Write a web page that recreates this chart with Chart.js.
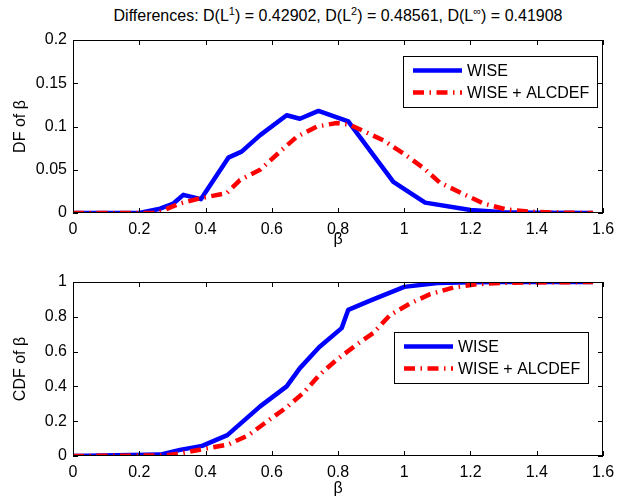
<!DOCTYPE html>
<html>
<head>
<meta charset="utf-8">
<script src="https://cdn.jsdelivr.net/npm/chart.js@4.4.0/dist/chart.umd.min.js"></script>
<style>
  body { margin: 0; background: #fff; }
  #wrap { position: relative; width: 624px; height: 497px; font-family: "Liberation Sans", Arial, sans-serif; }
  #titulo { position: absolute; left: 73px; width: 530px; top: 7px; text-align: center; font-size: 16px; color: #000; white-space: nowrap; }
  #titulo sup { font-size: 11px; vertical-align: 6px; line-height: 0; }
  canvas { position: absolute; left: 0; }
  #topo { top: 0; }
  #baixo { top: 248px; }
</style>
</head>
<body>
<div id="wrap">
  <div id="titulo">Differences: D(L<sup>1</sup>) = 0.42902, D(L<sup>2</sup>) = 0.48561, D(L<sup>∞</sup>) = 0.41908</div>
  <canvas id="topo" width="624" height="248"></canvas>
  <canvas id="baixo" width="624" height="249"></canvas>
</div>
<script>
// dados
const labelWise = 'WISE';
const labelAll = 'WISE + ALCDEF';

const betaDfWise = [0, 0.2, 0.263, 0.303, 0.333, 0.386, 0.469, 0.509, 0.565, 0.645, 0.685, 0.741, 0.831, 0.967, 1.063, 1.2, 1.3, 1.4, 1.57];
const dfWise = [0, 0, 0.005, 0.011, 0.021, 0.016, 0.064, 0.071, 0.090, 0.113, 0.109, 0.118, 0.106, 0.036, 0.012, 0.0035, 0.001, 0.0003, 0];

const betaDfAll = [0, 0.253, 0.323, 0.383, 0.464, 0.504, 0.565, 0.625, 0.675, 0.736, 0.796, 0.836, 0.937, 0.997, 1.058, 1.108, 1.173, 1.239, 1.309, 1.38, 1.45, 1.57];
const dfAll = [0, 0, 0.011, 0.017, 0.023, 0.038, 0.050, 0.071, 0.088, 0.100, 0.104, 0.102, 0.084, 0.069, 0.052, 0.035, 0.023, 0.011, 0.004, 0.0015, 0.0005, 0];

const betaCdfWise = [0, 0.263, 0.323, 0.39, 0.466, 0.565, 0.645, 0.685, 0.743, 0.811, 0.831, 0.897, 1.0, 1.1, 1.2, 1.3, 1.57];
const cdfWise = [0, 0.008, 0.035, 0.058, 0.12, 0.285, 0.40, 0.505, 0.625, 0.735, 0.84, 0.893, 0.972, 0.994, 0.999, 1, 1];

const betaCdfAll = [0, 0.28, 0.323, 0.404, 0.469, 0.53, 0.585, 0.645, 0.695, 0.746, 0.796, 0.856, 0.907, 0.957, 1.017, 1.078, 1.148, 1.219, 1.3, 1.57];
const cdfAll = [0, 0.003, 0.015, 0.044, 0.066, 0.12, 0.197, 0.28, 0.362, 0.47, 0.553, 0.64, 0.707, 0.81, 0.876, 0.93, 0.968, 0.987, 0.996, 1];

const xTicks = { min: 0, max: 1.6, step: 0.2 };

const fonte = "'Liberation Sans', Arial, sans-serif";
const azul = '#0000ff';
const vermelho = '#ff0000';
const tracoPonto = [11, 5.5, 1.5, 5.5];

function pares(xs, ys) {
  return xs.map((x, i) => ({ x: x, y: ys[i] }));
}

function fmt(v) {
  return String(+Number(v).toFixed(2));
}

// moldura, ticks para dentro e legenda no estilo matlab
const moldura = {
  id: 'moldura',
  afterDraw(chart, args, opts) {
    const ctx = chart.ctx;
    const a = chart.chartArea;
    const sx = chart.scales.x, sy = chart.scales.y;
    ctx.save();
    ctx.strokeStyle = '#000';
    ctx.lineWidth = 1;
    ctx.strokeRect(a.left + 0.5, a.top + 0.5, a.right - a.left - 1, a.bottom - a.top - 1);
    ctx.beginPath();
    sx.ticks.forEach(t => {
      const p = Math.round(sx.getPixelForValue(t.value)) + 0.5;
      ctx.moveTo(p, a.bottom); ctx.lineTo(p, a.bottom - 5);
      ctx.moveTo(p, a.top); ctx.lineTo(p, a.top + 5);
    });
    sy.ticks.forEach(t => {
      const p = Math.round(sy.getPixelForValue(t.value)) + 0.5;
      ctx.moveTo(a.left, p); ctx.lineTo(a.left + 5, p);
      ctx.moveTo(a.right, p); ctx.lineTo(a.right - 5, p);
    });
    ctx.stroke();

    // legenda
    const bx = a.right - opts.right - 194, by = a.top + opts.top;
    ctx.fillStyle = '#fff';
    ctx.fillRect(bx, by, 194, 51);
    ctx.strokeRect(bx + 0.5, by + 0.5, 194, 51);
    ctx.font = '16px ' + fonte;
    ctx.textBaseline = 'middle';
    ctx.fillStyle = '#000';
    const linhas = [chart.data.datasets[1], chart.data.datasets[0]];
    linhas.forEach((ds, i) => {
      const ly = by + 14.5 + i * 22;
      ctx.beginPath();
      ctx.strokeStyle = ds.borderColor;
      ctx.lineWidth = ds.borderWidth;
      ctx.setLineDash(ds.borderDash || []);
      ctx.moveTo(bx + 10, ly); ctx.lineTo(bx + 59, ly);
      ctx.stroke();
      ctx.setLineDash([]);
      ctx.fillText(ds.label, bx + 64, ly + 1);
    });
    ctx.restore();
  }
};

function criarGrafico(id, dadosWise, dadosAll, yMax, yStep, yTitulo, padTop, xAltura, legenda) {
  const ctx = document.getElementById(id).getContext('2d');
  return new Chart(ctx, {
    type: 'line',
    data: {
      datasets: [
        {
          label: labelAll,
          data: dadosAll,
          borderColor: vermelho,
          borderWidth: 4.5,
          borderDash: tracoPonto,
          borderCapStyle: 'butt',
          pointRadius: 0,
          tension: 0,
          order: 1
        },
        {
          label: labelWise,
          data: dadosWise,
          borderColor: azul,
          borderWidth: 4.5,
          borderJoinStyle: 'round',
          pointRadius: 0,
          tension: 0,
          order: 2
        }
      ]
    },
    options: {
      responsive: false,
      animation: false,
      layout: { padding: { top: padTop, right: 21, left: 0, bottom: 0 } },
      plugins: {
        legend: { display: false },
        tooltip: { enabled: false },
        moldura: legenda
      },
      scales: {
        x: {
          type: 'linear',
          min: xTicks.min,
          max: xTicks.max,
          grid: { display: false, drawTicks: false },
          border: { display: false },
          ticks: { stepSize: xTicks.step, padding: 7, color: '#000', font: { family: fonte, size: 16 }, callback: fmt, maxRotation: 0 },
          title: { display: true, text: 'β', color: '#000', font: { family: fonte, size: 16, lineHeight: 1.1 }, padding: 0 },
          afterFit: s => { s.height = xAltura; }
        },
        y: {
          min: 0,
          max: yMax,
          grid: { display: false, drawTicks: false },
          border: { display: false },
          ticks: { stepSize: yStep, padding: 6, color: '#000', font: { family: fonte, size: 16 }, callback: fmt },
          title: { display: true, text: yTitulo, color: '#000', font: { family: fonte, size: 16, lineHeight: 1.2 }, padding: { top: 11, bottom: 0 } },
          afterFit: s => { s.width = 73; }
        }
      }
    },
    plugins: [moldura]
  });
}

criarGrafico('topo', pares(betaDfWise, dfWise), pares(betaDfAll, dfAll), 0.2, 0.05, 'DF of β', 40, 35, { right: 6, top: 16 });
criarGrafico('baixo', pares(betaCdfWise, cdfWise), pares(betaCdfAll, cdfAll), 1, 0.2, 'CDF of β', 34, 41, { right: 15, top: 50 });
</script>
</body>
</html>
